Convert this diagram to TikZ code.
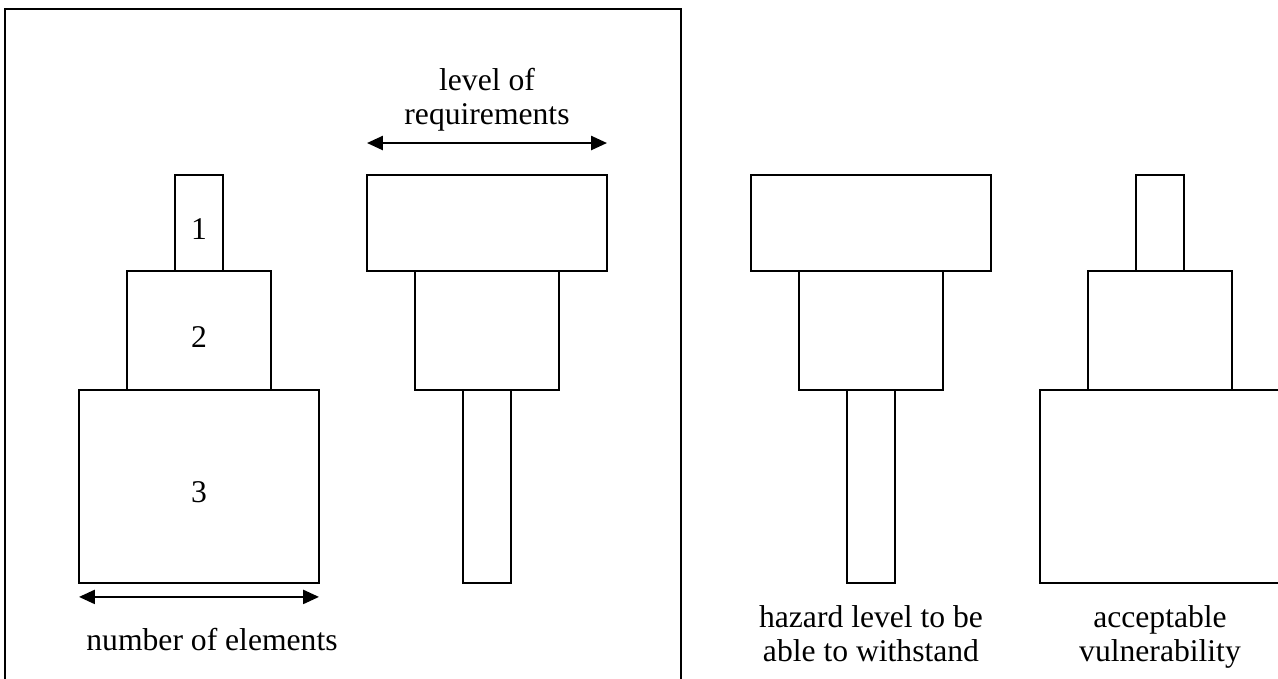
\documentclass[tikz,border=0pt]{standalone}
\usepackage{fontspec}
\setmainfont{Liberation Serif}
\usetikzlibrary{arrows.meta,positioning}

\tikzset{
  blk/.style 2 args={draw,line width=1.1pt,inner sep=0pt,outer sep=0pt,
    minimum width=#1,minimum height=#2,text height=19pt},
  lbl/.style={align=center,inner sep=0pt},
  both/.style={{Triangle[length=9pt,width=8pt]}-{Triangle[length=9pt,width=8pt]},line width=1.1pt}
}

\begin{document}
\begin{tikzpicture}[x=0.02cm,y=-0.02cm,font=\fontsize{18}{19.4}\selectfont]
\useasboundingbox (0,0) rectangle (1278,679);
% frame round the first two stacks
\draw[line width=1.1pt] (5,679) |- (681,9) -- (681,679);

% number of elements
\node[blk={0.96cm}{1.92cm}] (a1) at (199,223) {1};
\node[blk={2.88cm}{2.38cm},below=0pt of a1] (a2) {2};
\node[blk={4.8cm}{3.86cm},below=0pt of a2] (a3) {3};
\draw[both] ([yshift=-0.28cm]a3.south west)--([yshift=-0.28cm]a3.south east);
\node[lbl] (na) at (212,640) {number of elements};

% level of requirements
\node[blk={4.8cm}{1.92cm}] (b1) at (487,223) {};
\node[blk={2.88cm}{2.38cm},below=0pt of b1] (b2) {};
\node[blk={0.96cm}{3.86cm},below=0pt of b2] (b3) {};
\draw[both] ([yshift=0.64cm]b1.north west)--([yshift=0.64cm]b1.north east);
\node[lbl] (nb) at (487,100) {level of\\requirements};

% hazard level
\node[blk={4.8cm}{1.92cm}] (c1) at (871,223) {};
\node[blk={2.88cm}{2.38cm},below=0pt of c1] (c2) {};
\node[blk={0.96cm}{3.86cm},below=0pt of c2] (c3) {};
\node[lbl] (nc) at (871,638) {\strut hazard level to be\\\strut able to withstand};

% vulnerability
\node[blk={0.96cm}{1.92cm}] (d1) at (1160,223) {};
\node[blk={2.88cm}{2.38cm},below=0pt of d1] (d2) {};
\node[blk={4.8cm}{3.86cm},below=0pt of d2] (d3) {};
\node[lbl] (nd) at (1160,638) {\strut acceptable\\\strut vulnerability};
\end{tikzpicture}
\end{document}
